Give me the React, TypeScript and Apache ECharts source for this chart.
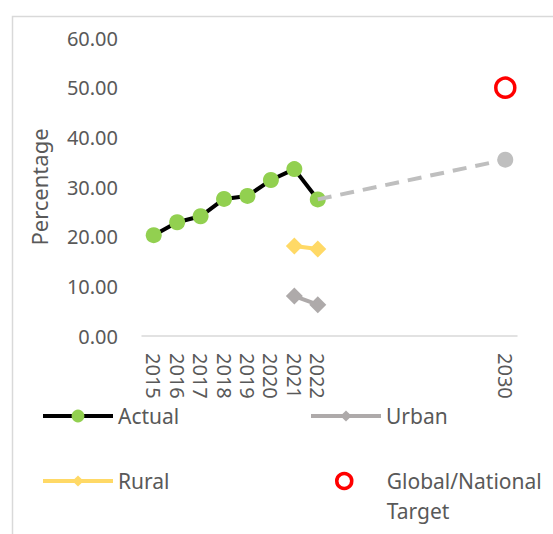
import React, { useEffect, useRef } from "react";
import * as echarts from "echarts";

const years = ["2015","2016","2017","2018","2019","2020","2021","2022","2023","2024","2025","2026","2027","2028","2029","2030"];
const labeledYears = ["2015","2016","2017","2018","2019","2020","2021","2022","2030"];
const actual = [20.3, 22.9, 24.1, 27.6, 28.2, 31.4, 33.6, 27.5];
const rural = [null, null, null, null, null, null, 18.1, 17.5];
const urban = [null, null, null, null, null, null, 8.05, 6.3];
const projectionStart = 27.5; // 2022
const projection2030 = 35.5;
const target2030 = 50;

const FONT = "Noto Sans";
const TXT = "#595959";

export default function App() {
  const ref = useRef<HTMLDivElement>(null);
  useEffect(() => {
    if (!ref.current) return;
    const chart = echarts.init(ref.current, null, { renderer: "svg" });
    const projData: any[] = years.map(() => null);
    projData[years.indexOf("2022")] = { value: projectionStart, symbol: "none" };
    projData[years.indexOf("2030")] = projection2030;
    const targetData: any[] = years.map(() => null);
    targetData[years.indexOf("2030")] = target2030;

    const legendText = { color: TXT, fontFamily: FONT, fontSize: 21, lineHeight: 24 };

    chart.setOption({
      animation: false,
      textStyle: { fontFamily: FONT },
      graphic: [
        {
          type: "rect",
          shape: { x: 12.5, y: 16.5, width: 700, height: 700 },
          style: { fill: "none", stroke: "#d9d9d9", lineWidth: 1.5 },
          silent: true,
        },
      ],
      grid: { left: 142, right: 36, top: 38, bottom: 198, containLabel: false },
      xAxis: {
        type: "category",
        data: years,
        boundaryGap: true,
        axisLine: { show: true, lineStyle: { color: "#d9d9d9", width: 1.5 } },
        axisTick: { show: false },
        axisLabel: {
          rotate: -90,
          interval: (i: number, v: string) => labeledYears.includes(v),
          color: TXT,
          fontFamily: FONT,
          fontSize: 20,
          margin: 17,
        },
        splitLine: { show: false },
      },
      yAxis: {
        type: "value",
        min: 0,
        max: 60,
        interval: 10,
        name: "Percentage",
        nameLocation: "middle",
        nameRotate: 90,
        nameGap: 92,
        nameTextStyle: { color: TXT, fontFamily: FONT, fontSize: 22 },
        axisLine: { show: false },
        axisTick: { show: false },
        splitLine: { show: false },
        axisLabel: {
          color: TXT,
          fontFamily: FONT,
          fontSize: 20,
          margin: 24,
          formatter: (v: number) => v.toFixed(2),
        },
      },
      legend: [
        {
          data: ["Actual"], left: 41, top: 404, padding: 0,
          itemWidth: 70, itemHeight: 16, textStyle: legendText,
          lineStyle: { width: 4 },
        },
        {
          data: ["Urban"], left: 309, top: 404, padding: 0,
          itemWidth: 70, itemHeight: 14, textStyle: legendText,
          lineStyle: { width: 4 },
        },
        {
          data: ["Rural"], left: 41, top: 469, padding: 0,
          itemWidth: 70, itemHeight: 14, textStyle: legendText,
          lineStyle: { width: 4 },
        },
        {
          data: ["Global/National Target"], left: 335, top: 436, padding: 0,
          itemWidth: 15, itemHeight: 15,
          itemStyle: { color: "#ffffff", borderColor: "#ff0000", borderWidth: 3.5 },
          formatter: (name: string) => "\n" + name.replace(" ", "\n"),
          textStyle: { ...legendText, lineHeight: 30, padding: [0, 0, 0, 30] },
        },
      ],
      series: [
        {
          name: "Actual",
          type: "line",
          data: actual,
          symbol: "circle",
          symbolSize: 16,
          lineStyle: { color: "#000000", width: 4 },
          itemStyle: { color: "#92d050" },
          z: 3,
        },
        {
          name: "Projection",
          type: "line",
          data: projData,
          connectNulls: true,
          symbol: "circle",
          symbolSize: 16,
          lineStyle: { color: "#bfbfbf", width: 4, type: [14, 9] },
          itemStyle: { color: "#bfbfbf" },
          z: 4,
        },
        {
          name: "Rural",
          type: "line",
          data: rural,
          symbol: "diamond",
          symbolSize: 17,
          lineStyle: { color: "#ffd966", width: 4 },
          itemStyle: { color: "#ffd966" },
          z: 3,
        },
        {
          name: "Urban",
          type: "line",
          data: urban,
          symbol: "diamond",
          symbolSize: 17,
          lineStyle: { color: "#aeaaaa", width: 4 },
          itemStyle: { color: "#aeaaaa" },
          z: 3,
        },
        {
          name: "Global/National Target",
          type: "scatter",
          data: targetData,
          symbol: "circle",
          symbolSize: 19,
          itemStyle: { color: "#ffffff", borderColor: "#ff0000", borderWidth: 3.5, opacity: 1 },
          z: 5,
        },
      ],
    });
    return () => chart.dispose();
  }, []);
  return (
    <div
      ref={ref}
      style={{ position: "fixed", left: 0, top: 0, width: 553, height: 534, background: "#fff" }}
    />
  );
}
